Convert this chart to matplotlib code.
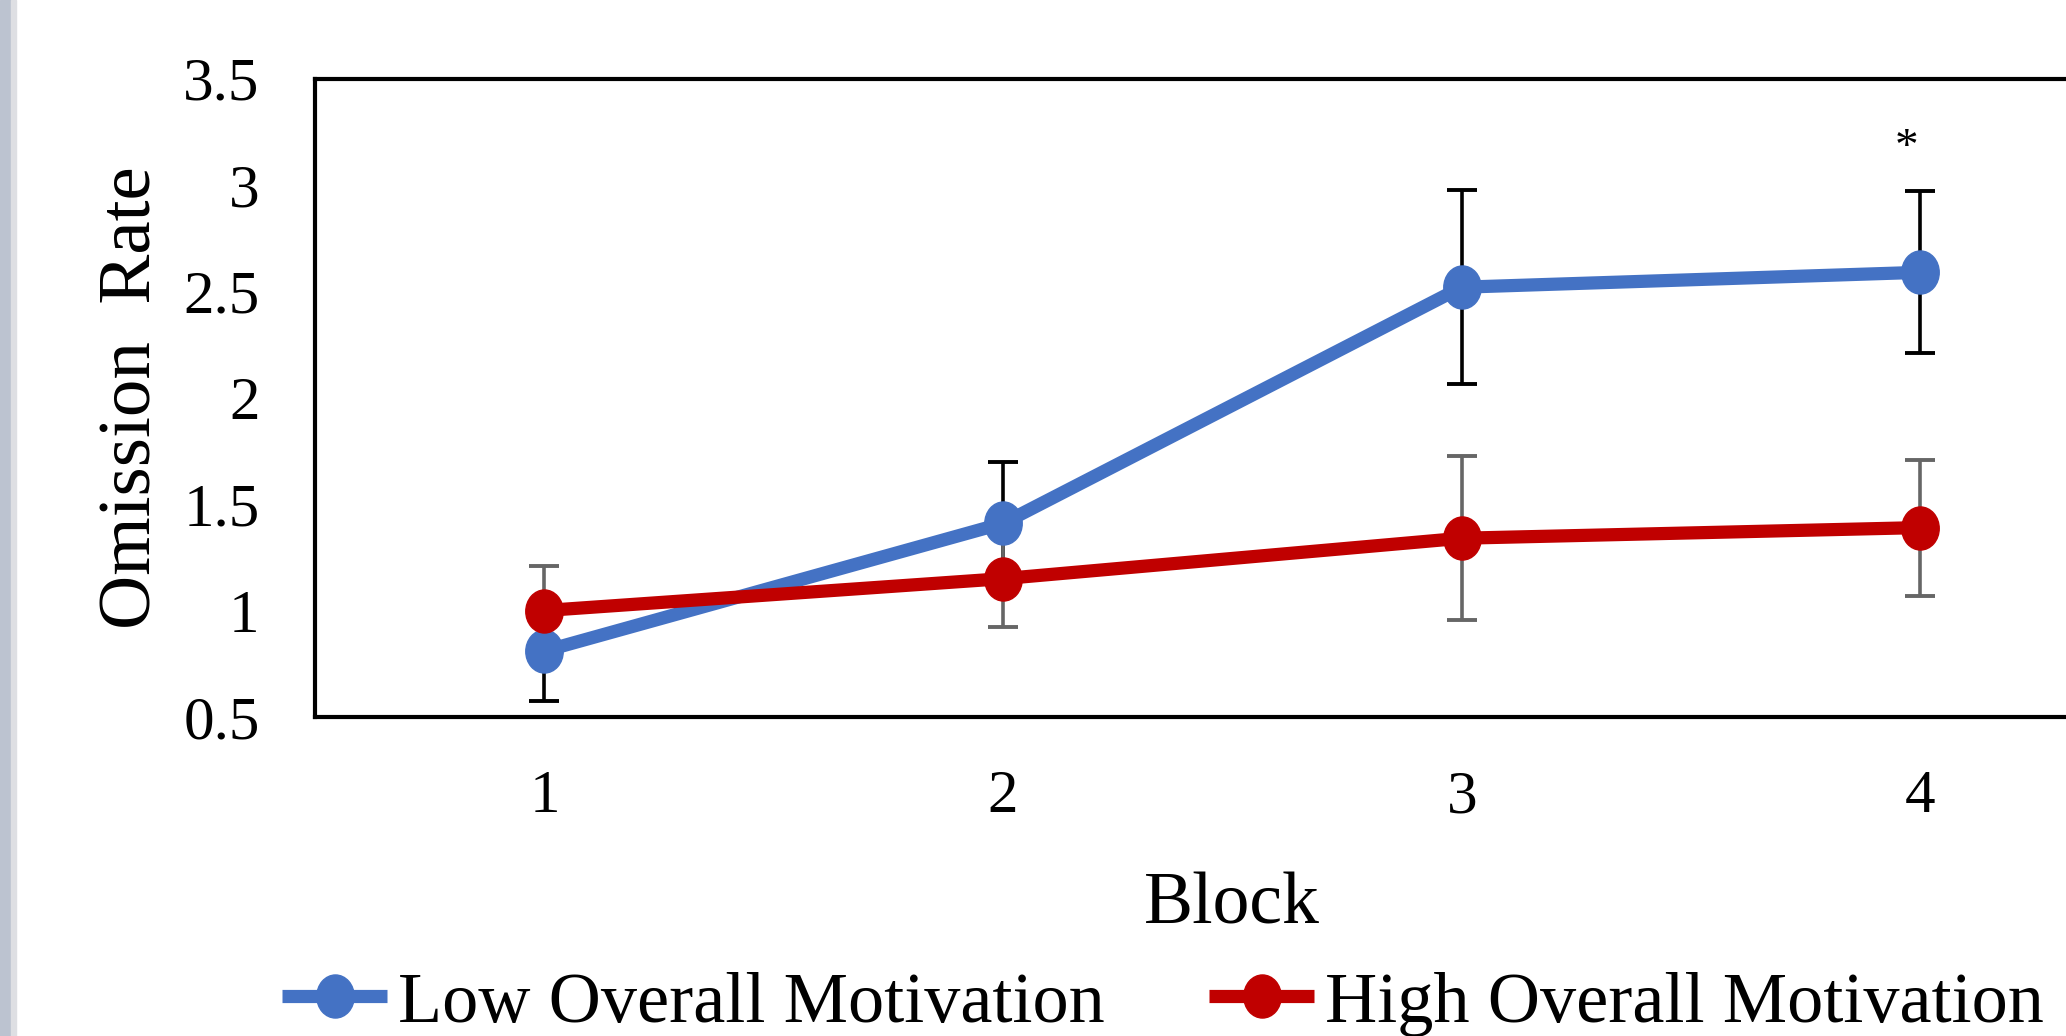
import numpy as np
import matplotlib
matplotlib.use("Agg")
import matplotlib.pyplot as plt
from matplotlib.path import Path
from matplotlib.transforms import Affine2D
from matplotlib.patches import Rectangle

plt.rcParams['font.family'] = ['Liberation Serif', 'DejaVu Serif']

# data
blocks = [1, 2, 3, 4]
tick_labels = ['1', '2', '3', '4']
low_mean = [0.81, 1.41, 2.52, 2.59]
low_err = [0.235, 0.29, 0.455, 0.38]
high_mean = [1.00, 1.15, 1.34, 1.39]
high_err = [0.21, 0.225, 0.385, 0.32]
series_names = ['Low Overall Motivation', 'High Overall Motivation']
star_block = 4

blue = '#4472C4'
red = '#C00000'

# slightly tall ellipse marker, the source image is stretched vertically
oval = Path.unit_circle().transformed(Affine2D().scale(1.0, 1.15))

fig = plt.figure(figsize=(20.66, 10.36), dpi=100)
# grey strip on the left edge (window border in the screenshot)
fig.patches.append(Rectangle((0, 0), 11 / 2066, 1, transform=fig.transFigure,
                             color='#bcc3d0', zorder=0))
fig.patches.append(Rectangle((11 / 2066, 0), 5 / 2066, 1, transform=fig.transFigure,
                             color='#dedfe3', zorder=0))

ax = fig.add_axes([0.1525, 0.308, 0.888, 0.616])

ax.errorbar(blocks, low_mean, yerr=low_err, fmt='none', ecolor='black',
            elinewidth=2.6, capsize=11, capthick=2.8, zorder=2)
ax.errorbar(blocks, high_mean, yerr=high_err, fmt='none', ecolor='#666666',
            elinewidth=2.6, capsize=11, capthick=2.8, zorder=2)
ax.plot(blocks, low_mean, color=blue, lw=9.5, marker=oval, ms=31,
        label=series_names[0], zorder=3, solid_capstyle='butt')
ax.plot(blocks, high_mean, color=red, lw=9.5, marker=oval, ms=31,
        label=series_names[1], zorder=3, solid_capstyle='butt')

ax.text(star_block - 0.03, low_mean[3] + low_err[3] + 0.2, '*', fontsize=34,
        ha='center', va='center')

ax.set_xlim(0.5, 4.5)
ax.set_ylim(0.5, 3.5)
ax.set_xticks(blocks)
ax.set_xticklabels(tick_labels)
ax.set_yticks(np.arange(0.5, 3.51, 0.5))
ax.set_yticklabels(['0.5', '1', '1.5', '2', '2.5', '3', '3.5'])
ax.tick_params(axis='both', length=0, labelsize=44)
ax.tick_params(axis='y', pad=40)
ax.tick_params(axis='x', pad=38)
for s in ax.spines.values():
    s.set_linewidth(3)
    s.set_color('black')

ax.set_xlabel('Block', fontsize=53, labelpad=34)
ax.set_ylabel('Omission  Rate', fontsize=54, labelpad=12)

fig.legend(loc='center', bbox_to_anchor=(0.563, 0.031), ncol=2, frameon=False,
           fontsize=52, handlelength=1.45, handletextpad=0.15, columnspacing=1.45,
           borderaxespad=0)

fig.savefig('out.png', dpi=100)
